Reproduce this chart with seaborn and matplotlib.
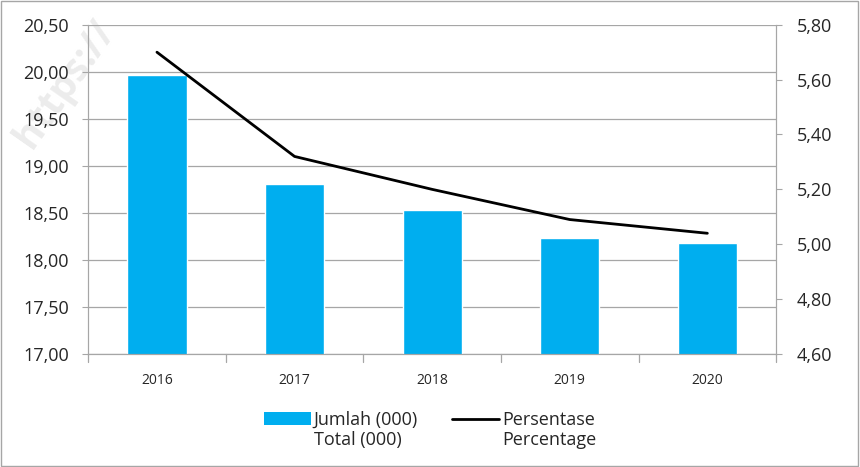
import numpy as np
import pandas as pd
import matplotlib
matplotlib.use("Agg")
import matplotlib.pyplot as plt
import seaborn as sns
from matplotlib.patches import Patch, Rectangle
from matplotlib.lines import Line2D
from matplotlib.ticker import FuncFormatter, MultipleLocator

years = ["2016", "2017", "2018", "2019", "2020"]
jumlah = [19.97, 18.81, 18.53, 18.23, 18.18]
persentase = [5.70, 5.32, 5.20, 5.09, 5.04]

sns.set_style("white")
plt.rcParams["font.family"] = ["Open Sans", "DejaVu Sans"]

df = pd.DataFrame({"tahun": years, "jumlah": jumlah, "persen": persentase})

fig = plt.figure(figsize=(8.6, 4.67), dpi=100)

# faint watermark behind everything
fig.text(0.075, 0.82, "https://", fontsize=28, color="#ececec",
         rotation=55, fontweight="bold", zorder=-5, ha="center", va="center")

ax = fig.add_axes([0.1025, 0.242, 0.8, 0.705])
ax.patch.set_alpha(0)

sns.barplot(data=df, x="tahun", y="jumlah", color="#00AEEF", saturation=1,
            width=0.43, ax=ax)
ax.set_ylim(17.0, 20.5)
ax.yaxis.set_major_locator(MultipleLocator(0.5))
comma = lambda v, p: f"{v:.2f}".replace(".", ",")
ax.yaxis.set_major_formatter(FuncFormatter(comma))
ax.grid(axis="y", color="#a6a6a6", linewidth=0.9)
ax.set_axisbelow(True)
ax.set_xlabel("")
ax.set_ylabel("")
for s in ["left", "right", "bottom"]:
    ax.spines[s].set_color("#a6a6a6")
ax.spines["top"].set_visible(False)
ax.tick_params(axis="y", labelsize=13, length=4, color="#a6a6a6", pad=10)
ax.tick_params(axis="x", labelsize=10, length=0, pad=14)
ax.set_xlim(-0.5, len(years) - 0.5)
# tick marks between categories
for b in np.arange(-0.5, len(years) + 0.5, 1.0):
    ax.plot([b, b], [0, -0.025], transform=ax.get_xaxis_transform(),
            color="#a6a6a6", linewidth=0.9, clip_on=False)

ax2 = ax.twinx()
ax2.patch.set_alpha(0)
sns.lineplot(data=df, x="tahun", y="persen", color="black", linewidth=2,
             ax=ax2, sort=False)
ax2.set_ylim(4.6, 5.8)
ax2.yaxis.set_major_locator(MultipleLocator(0.2))
ax2.yaxis.set_major_formatter(FuncFormatter(comma))
ax2.set_ylabel("")
ax2.tick_params(axis="y", labelsize=13, length=4, color="#a6a6a6", pad=11)
for s in ["left", "right", "bottom"]:
    ax2.spines[s].set_color("#a6a6a6")
ax2.spines["top"].set_visible(False)

blank = Patch(facecolor="none", edgecolor="none")
handles = [Patch(facecolor="#00AEEF", edgecolor="none"), blank,
           Line2D([0], [0], color="black", linewidth=2), blank]
labels = ["Jumlah (000)", "Total (000)", "Persentase", "Percentage"]
fig.legend(handles, labels,
           loc="upper center", bbox_to_anchor=(0.5, 0.155), ncol=2,
           frameon=False, fontsize=13, handlelength=2.6, handleheight=0.7,
           columnspacing=1.9, handletextpad=0.15, labelspacing=0.1)

fig.patches.append(Rectangle((0.001, 0.002), 0.997, 0.995, transform=fig.transFigure,
                             fill=False, edgecolor="#a6a6a6", linewidth=1))

fig.savefig("out.png", dpi=100)
